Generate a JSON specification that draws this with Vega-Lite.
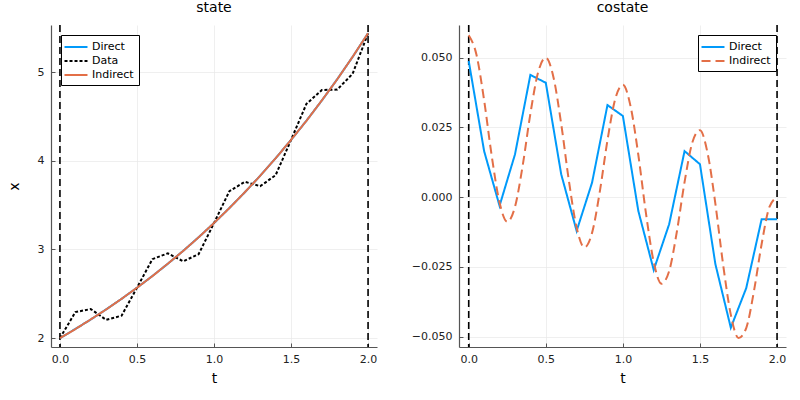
{
  "$schema": "https://vega.github.io/schema/vega-lite/v6.json",
  "padding": {"left": 7, "top": 1, "right": 5, "bottom": 5},
  "datasets": {
    "vlines": [{"t": 0}, {"t": 2}],
    "state": [
      {"t": 0.0, "x": 2.000, "series": "Direct"},
      {"t": 0.1, "x": 2.103, "series": "Direct"},
      {"t": 0.2, "x": 2.210, "series": "Direct"},
      {"t": 0.3, "x": 2.324, "series": "Direct"},
      {"t": 0.4, "x": 2.443, "series": "Direct"},
      {"t": 0.5, "x": 2.568, "series": "Direct"},
      {"t": 0.6, "x": 2.700, "series": "Direct"},
      {"t": 0.7, "x": 2.838, "series": "Direct"},
      {"t": 0.8, "x": 2.984, "series": "Direct"},
      {"t": 0.9, "x": 3.137, "series": "Direct"},
      {"t": 1.0, "x": 3.297, "series": "Direct"},
      {"t": 1.1, "x": 3.467, "series": "Direct"},
      {"t": 1.2, "x": 3.644, "series": "Direct"},
      {"t": 1.3, "x": 3.831, "series": "Direct"},
      {"t": 1.4, "x": 4.028, "series": "Direct"},
      {"t": 1.5, "x": 4.234, "series": "Direct"},
      {"t": 1.6, "x": 4.451, "series": "Direct"},
      {"t": 1.7, "x": 4.679, "series": "Direct"},
      {"t": 1.8, "x": 4.919, "series": "Direct"},
      {"t": 1.9, "x": 5.171, "series": "Direct"},
      {"t": 2.0, "x": 5.437, "series": "Direct"},
      {"t": 0.0, "x": 2.000, "series": "Data"},
      {"t": 0.1, "x": 2.293, "series": "Data"},
      {"t": 0.2, "x": 2.328, "series": "Data"},
      {"t": 0.3, "x": 2.206, "series": "Data"},
      {"t": 0.4, "x": 2.253, "series": "Data"},
      {"t": 0.5, "x": 2.568, "series": "Data"},
      {"t": 0.6, "x": 2.890, "series": "Data"},
      {"t": 0.7, "x": 2.956, "series": "Data"},
      {"t": 0.8, "x": 2.866, "series": "Data"},
      {"t": 0.9, "x": 2.946, "series": "Data"},
      {"t": 1.0, "x": 3.297, "series": "Data"},
      {"t": 1.1, "x": 3.657, "series": "Data"},
      {"t": 1.2, "x": 3.762, "series": "Data"},
      {"t": 1.3, "x": 3.713, "series": "Data"},
      {"t": 1.4, "x": 3.837, "series": "Data"},
      {"t": 1.5, "x": 4.234, "series": "Data"},
      {"t": 1.6, "x": 4.641, "series": "Data"},
      {"t": 1.7, "x": 4.797, "series": "Data"},
      {"t": 1.8, "x": 4.802, "series": "Data"},
      {"t": 1.9, "x": 4.981, "series": "Data"},
      {"t": 2.0, "x": 5.437, "series": "Data"},
      {"t": 0.0, "x": 2.000, "series": "Indirect"},
      {"t": 0.1, "x": 2.102, "series": "Indirect"},
      {"t": 0.2, "x": 2.211, "series": "Indirect"},
      {"t": 0.3, "x": 2.323, "series": "Indirect"},
      {"t": 0.4, "x": 2.443, "series": "Indirect"},
      {"t": 0.5, "x": 2.568, "series": "Indirect"},
      {"t": 0.6, "x": 2.699, "series": "Indirect"},
      {"t": 0.7, "x": 2.839, "series": "Indirect"},
      {"t": 0.8, "x": 2.983, "series": "Indirect"},
      {"t": 0.9, "x": 3.136, "series": "Indirect"},
      {"t": 1.0, "x": 3.298, "series": "Indirect"},
      {"t": 1.1, "x": 3.466, "series": "Indirect"},
      {"t": 1.2, "x": 3.645, "series": "Indirect"},
      {"t": 1.3, "x": 3.830, "series": "Indirect"},
      {"t": 1.4, "x": 4.027, "series": "Indirect"},
      {"t": 1.5, "x": 4.235, "series": "Indirect"},
      {"t": 1.6, "x": 4.450, "series": "Indirect"},
      {"t": 1.7, "x": 4.680, "series": "Indirect"},
      {"t": 1.8, "x": 4.918, "series": "Indirect"},
      {"t": 1.9, "x": 5.172, "series": "Indirect"},
      {"t": 2.0, "x": 5.437, "series": "Indirect"}
    ],
    "costate": [
      {"t": 0.0, "lambda": 0.0488, "series": "Direct"},
      {"t": 0.1, "lambda": 0.0165, "series": "Direct"},
      {"t": 0.2, "lambda": -0.0031, "series": "Direct"},
      {"t": 0.3, "lambda": 0.0153, "series": "Direct"},
      {"t": 0.4, "lambda": 0.0438, "series": "Direct"},
      {"t": 0.5, "lambda": 0.0410, "series": "Direct"},
      {"t": 0.6, "lambda": 0.0082, "series": "Direct"},
      {"t": 0.7, "lambda": -0.0121, "series": "Direct"},
      {"t": 0.8, "lambda": 0.0052, "series": "Direct"},
      {"t": 0.9, "lambda": 0.0330, "series": "Direct"},
      {"t": 1.0, "lambda": 0.0291, "series": "Direct"},
      {"t": 1.1, "lambda": -0.0049, "series": "Direct"},
      {"t": 1.2, "lambda": -0.0261, "series": "Direct"},
      {"t": 1.3, "lambda": -0.0097, "series": "Direct"},
      {"t": 1.4, "lambda": 0.0165, "series": "Direct"},
      {"t": 1.5, "lambda": 0.0118, "series": "Direct"},
      {"t": 1.6, "lambda": -0.0240, "series": "Direct"},
      {"t": 1.7, "lambda": -0.0468, "series": "Direct"},
      {"t": 1.8, "lambda": -0.0326, "series": "Direct"},
      {"t": 1.9, "lambda": -0.0079, "series": "Direct"},
      {"t": 2.0, "lambda": -0.0079, "series": "Direct"},
      {"t": 0.00, "lambda": 0.0580, "series": "Indirect"},
      {"t": 0.05, "lambda": 0.0511, "series": "Indirect"},
      {"t": 0.10, "lambda": 0.0347, "series": "Indirect"},
      {"t": 0.15, "lambda": 0.0145, "series": "Indirect"},
      {"t": 0.20, "lambda": -0.0019, "series": "Indirect"},
      {"t": 0.25, "lambda": -0.0088, "series": "Indirect"},
      {"t": 0.30, "lambda": -0.0035, "series": "Indirect"},
      {"t": 0.35, "lambda": 0.0113, "series": "Indirect"},
      {"t": 0.40, "lambda": 0.0299, "series": "Indirect"},
      {"t": 0.45, "lambda": 0.0447, "series": "Indirect"},
      {"t": 0.50, "lambda": 0.0500, "series": "Indirect"},
      {"t": 0.55, "lambda": 0.0429, "series": "Indirect"},
      {"t": 0.60, "lambda": 0.0262, "series": "Indirect"},
      {"t": 0.65, "lambda": 0.0058, "series": "Indirect"},
      {"t": 0.70, "lambda": -0.0109, "series": "Indirect"},
      {"t": 0.75, "lambda": -0.0180, "series": "Indirect"},
      {"t": 0.80, "lambda": -0.0128, "series": "Indirect"},
      {"t": 0.85, "lambda": 0.0019, "series": "Indirect"},
      {"t": 0.90, "lambda": 0.0204, "series": "Indirect"},
      {"t": 0.95, "lambda": 0.0351, "series": "Indirect"},
      {"t": 1.00, "lambda": 0.0403, "series": "Indirect"},
      {"t": 1.05, "lambda": 0.0325, "series": "Indirect"},
      {"t": 1.10, "lambda": 0.0152, "series": "Indirect"},
      {"t": 1.15, "lambda": -0.0059, "series": "Indirect"},
      {"t": 1.20, "lambda": -0.0232, "series": "Indirect"},
      {"t": 1.25, "lambda": -0.0310, "series": "Indirect"},
      {"t": 1.30, "lambda": -0.0265, "series": "Indirect"},
      {"t": 1.35, "lambda": -0.0124, "series": "Indirect"},
      {"t": 1.40, "lambda": 0.0054, "series": "Indirect"},
      {"t": 1.45, "lambda": 0.0195, "series": "Indirect"},
      {"t": 1.50, "lambda": 0.0240, "series": "Indirect"},
      {"t": 1.55, "lambda": 0.0156, "series": "Indirect"},
      {"t": 1.60, "lambda": -0.0024, "series": "Indirect"},
      {"t": 1.65, "lambda": -0.0241, "series": "Indirect"},
      {"t": 1.70, "lambda": -0.0421, "series": "Indirect"},
      {"t": 1.75, "lambda": -0.0505, "series": "Indirect"},
      {"t": 1.80, "lambda": -0.0469, "series": "Indirect"},
      {"t": 1.85, "lambda": -0.0337, "series": "Indirect"},
      {"t": 1.90, "lambda": -0.0168, "series": "Indirect"},
      {"t": 1.95, "lambda": -0.0036, "series": "Indirect"},
      {"t": 2.00, "lambda": 0.0000, "series": "Indirect"}
    ]
  },
  "hconcat": [
    {
      "width": 326,
      "height": 322,
      "title": {"text": "state"},
      "layer": [
        {
          "data": {"name": "vlines"},
          "mark": {"type": "rule", "color": "black", "strokeDash": [7, 4], "strokeWidth": 1.6},
          "encoding": {
            "x": {"field": "t", "type": "quantitative", "scale": {"domain": [-0.058, 2.058], "nice": false, "zero": false}}
          }
        },
        {
          "data": {"name": "state"},
          "mark": {"type": "line", "strokeWidth": 2},
          "encoding": {
            "x": {
              "field": "t", "type": "quantitative", "title": "t",
              "scale": {"domain": [-0.058, 2.058], "nice": false, "zero": false},
              "axis": {"values": [0, 0.5, 1, 1.5, 2], "format": ".1f"}
            },
            "y": {
              "field": "x", "type": "quantitative", "title": "x",
              "scale": {"domain": [1.9, 5.53], "nice": false, "zero": false},
              "axis": {"values": [2, 3, 4, 5]}
            },
            "color": {
              "field": "series", "type": "nominal",
              "scale": {"domain": ["Direct", "Data", "Indirect"], "range": ["#009AFA", "#000000", "#E36F47"]},
              "legend": {"orient": "top-left", "title": null}
            },
            "strokeDash": {
              "field": "series", "type": "nominal",
              "scale": {"domain": ["Direct", "Data", "Indirect"], "range": [[1, 0], [3, 2], [1, 0]]},
              "legend": {"orient": "top-left", "title": null}
            },
            "order": {"field": "t"}
          }
        }
      ]
    },
    {
      "width": 327,
      "height": 322,
      "title": {"text": "costate"},
      "encoding": {
        "x": {
          "field": "t", "type": "quantitative", "title": "t",
          "scale": {"domain": [-0.063, 2.058], "nice": false, "zero": false},
          "axis": {"values": [0, 0.5, 1, 1.5, 2], "format": ".1f"}
        }
      },
      "layer": [
        {
          "data": {"name": "vlines"},
          "mark": {"type": "rule", "color": "black", "strokeDash": [7, 4], "strokeWidth": 1.6}
        },
        {
          "data": {"name": "costate"},
          "transform": [{"filter": "datum.series == 'Direct'"}],
          "mark": {"type": "line", "strokeWidth": 2},
          "encoding": {
            "y": {
              "field": "lambda", "type": "quantitative", "title": null,
              "scale": {"domain": [-0.0537, 0.0617], "nice": false, "zero": false},
              "axis": {"values": [-0.05, -0.025, 0, 0.025, 0.05], "format": ".3f"}
            },
            "color": {
              "field": "series", "type": "nominal",
              "scale": {"domain": ["Direct", "Indirect"], "range": ["#009AFA", "#E36F47"]},
              "legend": {"orient": "top-right", "title": null}
            },
            "strokeDash": {
              "field": "series", "type": "nominal",
              "scale": {"domain": ["Direct", "Indirect"], "range": [[1, 0], [9, 5]]},
              "legend": {"orient": "top-right", "title": null}
            },
            "order": {"field": "t"}
          }
        },
        {
          "data": {"name": "costate"},
          "transform": [{"filter": "datum.series == 'Indirect'"}],
          "mark": {"type": "line", "strokeWidth": 2, "interpolate": "monotone"},
          "encoding": {
            "y": {"field": "lambda", "type": "quantitative"},
            "color": {"field": "series", "type": "nominal"},
            "strokeDash": {"field": "series", "type": "nominal"},
            "order": {"field": "t"}
          }
        }
      ]
    }
  ],
  "spacing": 34,
  "resolve": {
    "scale": {"x": "independent", "y": "independent", "color": "independent", "strokeDash": "independent"},
    "legend": {"color": "independent", "strokeDash": "independent"}
  },
  "config": {
    "font": "DejaVu Sans",
    "view": {"stroke": null},
    "title": {"fontSize": 14, "fontWeight": "normal", "color": "#000000", "offset": 9},
    "axis": {
      "domainColor": "#555555",
      "domainWidth": 1.2,
      "gridColor": "#e8e8e8",
      "gridWidth": 0.7,
      "tickColor": "#555555",
      "tickSize": -4,
      "labelFontSize": 11,
      "labelColor": "#222222",
      "titleFontSize": 14,
      "titleFontWeight": "normal",
      "titleColor": "#000000"
    },
    "axisX": {"labelPadding": 10, "titlePadding": 7},
    "axisY": {"labelPadding": 11, "titlePadding": 16},
    "legend": {
      "offset": 10,
      "strokeColor": "#000000",
      "fillColor": "#ffffff",
      "padding": 5,
      "symbolType": "M-2,0H2",
      "symbolStrokeWidth": 2,
      "symbolSize": 132,
      "symbolOffset": 3,
      "labelOffset": 9,
      "labelFontSize": 11,
      "labelColor": "#000000",
      "rowPadding": 2,
      "cornerRadius": 0
    }
  }
}
